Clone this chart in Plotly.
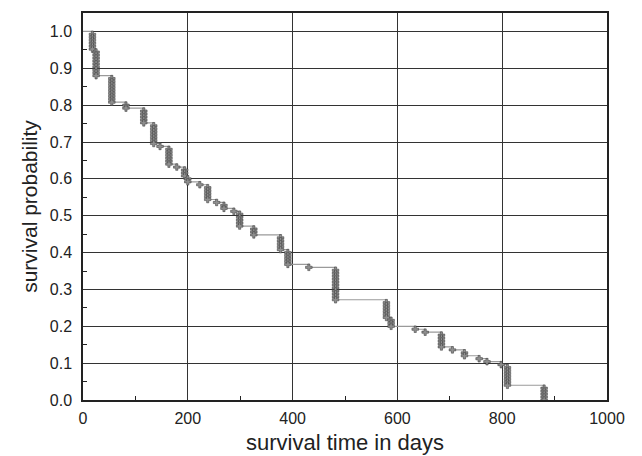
import plotly.graph_objects as go

# Kaplan-Meier style data: event times (days) and number of deaths at each time
N_AT_RISK = 125
event_times = [18, 25, 55, 82, 116, 135, 147, 164, 179, 194, 200, 223, 238, 255, 269, 288,
               299, 326, 377, 391, 431, 482, 579, 588, 634, 653, 684, 705, 728, 756, 771,
               798, 810, 880]
deaths = [6, 9, 9, 2, 5, 7, 1, 6, 1, 3, 2, 1, 5, 1, 2, 1,
          5, 3, 5, 5, 1, 11, 6, 3, 1, 1, 5, 1, 2, 1, 1,
          1, 7, 5]

x_ticks = [0, 200, 400, 600, 800, 1000]
y_ticks = [0.0, 0.1, 0.2, 0.3, 0.4, 0.5, 0.6, 0.7, 0.8, 0.9, 1.0]

# step curve and one marker per death
step_x, step_y = [0], [1.0]
mark_x, mark_y = [], []
alive = N_AT_RISK
for t, d in zip(event_times, deaths):
    for _ in range(d):
        alive -= 1
        mark_x.append(t)
        mark_y.append(alive / N_AT_RISK)
    step_x.append(t)
    step_y.append(alive / N_AT_RISK)

fig = go.Figure()
fig.add_trace(go.Scatter(x=step_x, y=step_y, mode="lines", line_shape="hv",
                         line=dict(color="#9a9a9a", width=1.2), showlegend=False,
                         hoverinfo="skip"))
fig.add_trace(go.Scatter(x=mark_x, y=mark_y, mode="markers",
                         marker=dict(symbol="cross", size=5.5, color="#8f8f8f",
                                     line=dict(color="#333333", width=0.5)),
                         showlegend=False))

font_family = "Liberation Sans, Arial, sans-serif"
# the page body has an 8px margin, so the figure is offset by (8, 8)
fig.update_layout(
    width=642, height=456,
    margin=dict(l=75, r=43, t=5, b=64, autoexpand=False),
    paper_bgcolor="white", plot_bgcolor="white",
    font=dict(family=font_family, color="#222222"),
    xaxis=dict(range=[0, 1000], tickvals=x_ticks,
               showgrid=True, gridcolor="#333333", gridwidth=1,
               zeroline=False, showline=True, linecolor="#222222", linewidth=1.5,
               mirror=True, ticks="", tickfont=dict(size=16), ticklabelstandoff=3,
               minor=dict(tickvals=[100, 300, 500, 700, 900], ticks="inside",
                          ticklen=4, tickcolor="#222222", showgrid=False),
               title=dict(text="survival time in days", font=dict(size=22), standoff=9)),
    yaxis=dict(range=[0, 1.05], tickvals=y_ticks, tickformat=".1f",
               showgrid=True, gridcolor="#333333", gridwidth=1,
               zeroline=False, showline=True, linecolor="#222222", linewidth=1.5,
               mirror=True, ticks="", tickfont=dict(size=16), ticklabelstandoff=6,
               minor=dict(tickvals=[0.05 + i / 10 for i in range(10)], ticks="inside",
                          ticklen=4, tickcolor="#222222", showgrid=False),
               title=dict(text="survival probability", font=dict(size=21), standoff=6)),
)

fig.write_html("out.html")
